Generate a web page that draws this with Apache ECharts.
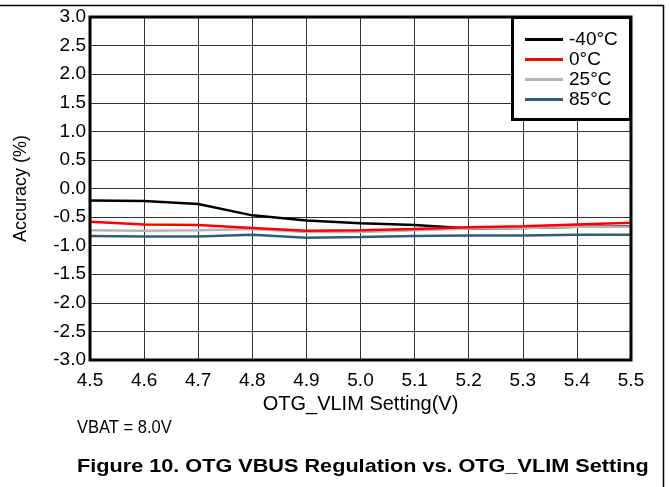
<!DOCTYPE html>
<html><head><meta charset="utf-8">
<script src="https://cdn.jsdelivr.net/npm/echarts@6/dist/echarts.min.js"></script>
<style>html,body{margin:0;padding:0;background:#fff}#c{width:669px;height:487px}</style>
</head><body><div id="c"></div>
<script>
const xValues = [4.5, 4.6, 4.7, 4.8, 4.9, 5.0, 5.1, 5.2, 5.3, 5.4, 5.5];
const seriesNames = ['-40°C', '0°C', '25°C', '85°C'];
const valsM40 = [-0.21, -0.22, -0.27, -0.47, -0.56, -0.61, -0.64, -0.70, -0.69, -0.67, -0.66];
const vals0 = [-0.58, -0.63, -0.64, -0.69, -0.74, -0.73, -0.71, -0.68, -0.66, -0.63, -0.60];
const vals25 = [-0.73, -0.74, -0.73, -0.71, -0.76, -0.76, -0.73, -0.70, -0.69, -0.67, -0.67];
const vals85 = [-0.83, -0.84, -0.84, -0.81, -0.86, -0.85, -0.83, -0.82, -0.82, -0.81, -0.81];
const colors = ['#000000', '#ff0000', '#b4b4b4', '#2f5d78'];
const xAxisTitle = 'OTG_VLIM Setting(V)';
const yAxisTitle = 'Accuracy (%)';
const noteText = 'VBAT = 8.0V';
const captionText = 'Figure 10. OTG VBUS Regulation vs. OTG_VLIM Setting';

const FONT = '"Liberation Sans", Arial, sans-serif';
const allVals = [valsM40, vals0, vals25, vals85];
const zOrder = [1, 4, 2, 3];
const chart = echarts.init(document.getElementById('c'), null, {renderer: 'canvas'});
const series = allVals.map((v, i) => ({
  name: seriesNames[i], type: 'line', symbol: 'none', smooth: false, z: zOrder[i],
  data: xValues.map((x, j) => [x, v[j]]),
  lineStyle: {color: colors[i], width: 2.5}, itemStyle: {color: colors[i]}
}));
chart.setOption({
  animation: false,
  textStyle: {fontFamily: FONT},
  grid: {left: 90, top: 17, width: 541, height: 343, show: true, borderColor: '#000', borderWidth: 3, backgroundColor: 'transparent', z: 5},
  legend: {
    orient: 'vertical', left: 520, top: 25, itemWidth: 38, itemHeight: 14, itemGap: 1,
    data: seriesNames.map((n, i) => ({name: n, icon: 'path://M0,0 L38,0 L38,3 L0,3 Z', itemStyle: {color: colors[i]}})),
    textStyle: {fontFamily: FONT, fontSize: 19, lineHeight: 17, color: '#000', padding: [0, 0, 0, 1]}
  },
  xAxis: {
    type: 'value', min: 4.5, max: 5.5, interval: 0.1,
    name: xAxisTitle, nameLocation: 'middle', nameGap: 31,
    nameTextStyle: {fontFamily: FONT, fontSize: 20, color: '#000'},
    axisLine: {show: false}, axisTick: {show: false},
    axisLabel: {fontFamily: FONT, fontSize: 19, color: '#000', margin: 11, formatter: v => v.toFixed(1)},
    splitLine: {show: true, lineStyle: {color: '#333', width: 1}}
  },
  yAxis: {
    type: 'value', min: -3, max: 3, interval: 0.5,
    name: yAxisTitle, nameLocation: 'middle', nameGap: 60, nameRotate: 90,
    nameTextStyle: {fontFamily: FONT, fontSize: 18, color: '#000'},
    axisLine: {show: false}, axisTick: {show: false},
    axisLabel: {fontFamily: FONT, fontSize: 19, color: '#000', margin: 4, formatter: v => v.toFixed(1)},
    splitLine: {show: true, lineStyle: {color: '#333', width: 1}}
  },
  graphic: [
    {type: 'polyline', shape: {points: [[0, 5.5], [663.5, 5.5], [663.5, 487]]}, style: {stroke: '#000', lineWidth: 1.5, fill: null}, z: 10},
    {type: 'rect', shape: {x: 512.5, y: 17.5, width: 118, height: 102}, style: {stroke: '#000', lineWidth: 3, fill: '#fff'}, z: 1},
    {type: 'text', x: 77, y: 418, style: {text: noteText, fontFamily: FONT, fontSize: 19, fill: '#000'}, scaleX: 0.87},
    {type: 'text', x: 77, y: 457, style: {text: captionText, fontFamily: FONT, fontSize: 19, fontWeight: 'bold', fill: '#000'}, scaleX: 1.14}
  ],
  series: series
});
</script></body></html>
